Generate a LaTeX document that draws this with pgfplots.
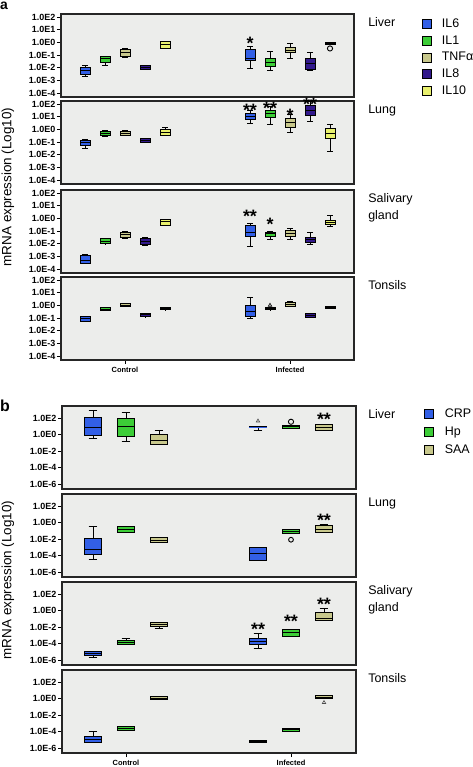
\documentclass[border=0pt]{standalone}
\usepackage{pgfplots}
\pgfplotsset{compat=1.18}
\usepackage{pgfplotstable}
\usepgfplotslibrary{statistics}
\usepackage{fontspec}
\setmainfont{Liberation Sans}

\definecolor{bgc}{RGB}{236,237,235}
\definecolor{cIL6}{RGB}{50,95,230}
\definecolor{cIL1}{RGB}{60,205,55}
\definecolor{cTNF}{RGB}{200,200,140}
\definecolor{cIL8}{RGB}{50,25,140}
\definecolor{cIL10}{RGB}{232,240,110}
\colorlet{acol0}{cIL6}\colorlet{acol1}{cIL1}\colorlet{acol2}{cTNF}\colorlet{acol3}{cIL8}\colorlet{acol4}{cIL10}
\colorlet{acol5}{cIL6}\colorlet{acol6}{cIL1}\colorlet{acol7}{cTNF}\colorlet{acol8}{cIL8}\colorlet{acol9}{cIL10}
\colorlet{bcol0}{cIL6}\colorlet{bcol1}{cIL1}\colorlet{bcol2}{cTNF}
\colorlet{bcol3}{cIL6}\colorlet{bcol4}{cIL1}\colorlet{bcol5}{cTNF}

% panel a: rows 0-4 Control (IL6 IL1 TNFa IL8 IL10), rows 5-9 Infected; values are log10
\pgfplotstableread{
lw q1 med q3 uw
-2.65 -2.50 -2.20 -1.95 -1.80
-1.84 -1.55 -1.30 -1.13 -1.10
-1.20 -1.13 -0.82 -0.55 -0.50
-2.15 -2.10 -1.95 -1.82 -1.80
-0.50 -0.47 -0.17 0.05 0.08
-2.05 -1.45 -1.26 -0.55 -0.29
-2.24 -1.87 -1.55 -1.26 -0.74
-1.26 -0.81 -0.60 -0.39 -0.08
-2.18 -2.13 -1.65 -1.26 -0.76
-0.16 -0.16 -0.10 -0.03 0.00
}\tblAL
\pgfplotstableread{
lw q1 med q3 uw
-1.50 -1.24 -1.03 -0.84 -0.75
-0.55 -0.50 -0.31 -0.13 -0.10
-0.48 -0.45 -0.29 -0.13 -0.10
-1.05 -1.02 -0.87 -0.71 -0.68
-0.50 -0.45 -0.23 0.00 0.16
0.48 0.79 1.05 1.27 1.50
0.42 0.93 1.24 1.53 1.80
-0.26 0.16 0.53 0.87 1.19
0.61 1.08 1.50 1.87 2.20
-1.71 -0.71 -0.31 0.08 0.40
}\tblAU
\pgfplotstableread{
lw q1 med q3 uw
-3.55 -3.55 -3.28 -2.94 -2.83
-2.00 -1.98 -1.79 -1.60 -1.58
-1.60 -1.52 -1.26 -1.07 -1.05
-2.10 -2.08 -1.82 -1.55 -1.52
-0.56 -0.54 -0.27 -0.08 -0.06
-2.19 -1.42 -1.07 -0.54 -0.40
-1.66 -1.42 -1.20 -1.07 -1.05
-1.68 -1.42 -1.15 -0.94 -0.75
-2.06 -1.92 -1.68 -1.47 -1.12
-0.67 -0.48 -0.30 -0.14 0.21
}\tblAS
\pgfplotstableread{
lw q1 med q3 uw
-1.28 -1.26 -1.04 -0.90 -0.88
-0.40 -0.38 -0.30 -0.18 -0.16
-0.08 -0.06 0.02 0.14 0.16
-0.90 -0.88 -0.74 -0.62 -0.60
-0.34 -0.32 -0.22 -0.14 -0.12
-1.04 -0.90 -0.50 0.02 0.66
-0.34 -0.32 -0.22 -0.14 -0.12
-0.08 -0.06 0.10 0.26 0.28
-0.96 -0.94 -0.80 -0.64 -0.62
-0.24 -0.22 -0.14 -0.06 -0.04
}\tblAT
% panel b: rows 0-2 Control (CRP Hp SAA), rows 3-5 Infected
\pgfplotstableread{
lw q1 med q3 uw
-0.51 -0.15 0.87 2.04 2.85
-0.79 -0.27 0.95 1.96 2.64
-1.19 -1.19 -0.75 0.06 0.46
0.46 0.93 0.95 0.97 0.97
0.75 0.75 0.95 1.15 1.15
0.46 0.46 0.90 1.27 1.27
}\tblBL
\pgfplotstableread{
lw q1 med q3 uw
-4.45 -3.85 -3.25 -1.86 -0.47
-1.19 -1.19 -0.83 -0.47 -0.47
-2.45 -2.45 -2.14 -1.82 -1.82
-4.57 -4.57 -3.77 -3.05 -3.05
-1.26 -1.26 -1.07 -0.87 -0.87
-1.19 -1.19 -0.78 -0.39 -0.19
}\tblBU
\pgfplotstableread{
lw q1 med q3 uw
-5.60 -5.40 -5.17 -4.93 -4.90
-4.12 -4.12 -3.85 -3.60 -3.32
-2.20 -1.93 -1.64 -1.40 -1.40
-4.60 -4.12 -3.73 -3.32 -2.72
-3.12 -3.12 -2.65 -2.32 -2.32
-1.20 -1.20 -1.00 -0.24 0.28
}\tblBS
\pgfplotstableread{
lw q1 med q3 uw
-5.27 -5.27 -4.88 -4.55 -3.92
-3.88 -3.88 -3.64 -3.40 -3.40
-0.16 -0.16 0.04 0.25 0.25
-5.28 -5.28 -5.13 -5.00 -5.00
-4.00 -4.00 -3.76 -3.60 -3.60
0.00 0.00 0.16 0.32 0.32
}\tblBT

\tikzset{
  organ/.style={anchor=north west, inner sep=0pt, font=\fontsize{12.5}{17}\selectfont, align=left},
  sig/.style={font=\bfseries\fontsize{18}{18}\selectfont, anchor=base, inner sep=0pt, yshift=-10bp},
}
\pgfplotsset{
  panel/.style={
    scale only axis, height=83bp, clip=false,
    boxplot/draw direction=y,
    axis background/.style={fill=bgc},
    axis line style={line width=1.2pt, draw=black!85},
    ytick pos=left, xtick=\empty,
    tick align=outside, major tick length=4bp,
    every tick/.style={black, line width=0.9pt},
    yticklabel style={font=\bfseries\fontsize{9}{10}\selectfont, inner sep=1.5bp},
    xticklabel style={font=\bfseries\fontsize{7.5}{8}\selectfont},
  },
  pa/.style={panel, width=293bp, xmin=-3.2, xmax=11.45, ymin=-4.3, ymax=2.25,
    ytick={-4,-3,-2,-1,0,1,2},
    yticklabels={1.0E-4,1.0E-3,1.0E-2,1.0E-1,1.0E0,1.0E1,1.0E2}},
  pb/.style={panel, width=294bp, xmin=-1.94, xmax=6.97, ymin=-6.55, ymax=3.45,
    ytick={-6,-4,-2,0,2},
    yticklabels={1.0E-6,1.0E-4,1.0E-2,1.0E0,1.0E2}},
}

% one box: #1 table, #2 row, #3 position expr, #4 fill colour, #5 box extend, #6 whisker extend
\newcommand{\onebox}[6]{%
  \pgfplotstablegetelem{#2}{lw}\of{#1}\edef\bLW{\pgfplotsretval}%
  \pgfplotstablegetelem{#2}{q1}\of{#1}\edef\bQa{\pgfplotsretval}%
  \pgfplotstablegetelem{#2}{med}\of{#1}\edef\bMD{\pgfplotsretval}%
  \pgfplotstablegetelem{#2}{q3}\of{#1}\edef\bQc{\pgfplotsretval}%
  \pgfplotstablegetelem{#2}{uw}\of{#1}\edef\bUW{\pgfplotsretval}%
  \pgfmathsetmacro\bPos{#3}%
  \edef\bCmd{\noexpand\addplot[forget plot, draw=black, line width=1pt, fill=#4,
    boxplot prepared={draw direction=y, draw position=\bPos, lower whisker=\bLW, lower quartile=\bQa,
      median=\bMD, upper quartile=\bQc, upper whisker=\bUW,
      box extend=#5, whisker extend=#6}] coordinates {};}%
  \bCmd}
\newcommand{\boxesA}[1]{%
  \pgfplotsinvokeforeach{0,...,4}{\onebox{#1}{##1}{##1-2}{acol##1}{0.5}{0.3}}%
  \pgfplotsinvokeforeach{5,...,9}{\onebox{#1}{##1}{##1+1.25}{acol##1}{0.5}{0.3}}}
\newcommand{\boxesB}[1]{%
  \pgfplotsinvokeforeach{0,...,2}{\onebox{#1}{##1}{##1-1}{bcol##1}{0.52}{0.27}}%
  \pgfplotsinvokeforeach{3,...,5}{\onebox{#1}{##1}{##1+1}{bcol##1}{0.52}{0.27}}}

\begin{document}
\begin{tikzpicture}
\useasboundingbox (0,0) rectangle (473bp,767bp);

% ---------------- panel a ----------------
\begin{axis}[pa, at={(61bp,670bp)}, anchor=south west,
  legend style={at={(1.232,0.94)}, anchor=north west, draw=none, fill=none,
    inner sep=0pt, font=\fontsize{12.5}{14}\selectfont, row sep=6.5bp,
    nodes={inner sep=0pt},
    /tikz/every odd column/.append style={column sep=10bp}},
  legend cell align=left]
\boxesA{\tblAL}
\addplot[forget plot, only marks, mark=o, mark size=2.6bp, black, line width=0.9pt] coordinates {(10.25,-0.47)};
\node[sig] at (axis cs:6.25,0.26) {*};
\node[organ] at (rel axis cs:1.048,0.96) {Liver};
\addlegendimage{legend image code/.code={\draw[fill=cIL6,draw=black,line width=0.7pt] (0bp,-4.5bp) rectangle (9bp,4.5bp);}}
\addlegendentry{IL6}
\addlegendimage{legend image code/.code={\draw[fill=cIL1,draw=black,line width=0.7pt] (0bp,-4.5bp) rectangle (9bp,4.5bp);}}
\addlegendentry{IL1}
\addlegendimage{legend image code/.code={\draw[fill=cTNF,draw=black,line width=0.7pt] (0bp,-4.5bp) rectangle (9bp,4.5bp);}}
\addlegendentry{TNFα}
\addlegendimage{legend image code/.code={\draw[fill=cIL8,draw=black,line width=0.7pt] (0bp,-4.5bp) rectangle (9bp,4.5bp);}}
\addlegendentry{IL8}
\addlegendimage{legend image code/.code={\draw[fill=cIL10,draw=black,line width=0.7pt] (0bp,-4.5bp) rectangle (9bp,4.5bp);}}
\addlegendentry{IL10}
\end{axis}

\begin{axis}[pa, at={(61bp,583bp)}, anchor=south west]
\boxesA{\tblAU}
\node[sig] at (axis cs:6.25,1.84) {**};
\node[sig] at (axis cs:7.25,1.98) {**};
\node[sig] at (axis cs:8.25,1.42) {*};
\node[sig] at (axis cs:9.25,2.32) {**};
\node[organ] at (rel axis cs:1.048,0.96) {Lung};
\end{axis}

\begin{axis}[pa, at={(61bp,494bp)}, anchor=south west]
\boxesA{\tblAS}
\node[sig] at (axis cs:6.25,0.45) {**};
\node[sig] at (axis cs:7.25,-0.14) {*};
\node[organ] at (rel axis cs:1.048,0.96) {Salivary\\gland};
\end{axis}

\begin{axis}[pa, at={(61bp,407bp)}, anchor=south west,
  xtick={0,8.25}, xticklabels={Control,Infected}, xtick pos=bottom]
\boxesA{\tblAT}
\addplot[forget plot, only marks, mark=triangle, mark size=2bp, black, line width=0.6pt] coordinates {(7.25,0.02)};
\node[organ] at (rel axis cs:1.048,0.96) {Tonsils};
\end{axis}

% ---------------- panel b ----------------
\begin{axis}[pb, at={(62bp,278bp)}, anchor=south west,
  legend style={at={(1.231,0.964)}, anchor=north west, draw=none, fill=none,
    inner sep=0pt, font=\fontsize{12.5}{14}\selectfont, row sep=7.5bp,
    nodes={inner sep=0pt},
    /tikz/every odd column/.append style={column sep=11bp}},
  legend cell align=left]
\boxesB{\tblBL}
\addplot[forget plot, only marks, mark=triangle, mark size=2bp, black!70, line width=0.6pt] coordinates {(4,1.64)};
\addplot[forget plot, only marks, mark=o, mark size=2.6bp, black, line width=0.9pt] coordinates {(5,1.55)};
\node[sig] at (axis cs:6,2.36) {**};
\node[organ] at (rel axis cs:1.041,0.96) {Liver};
\addlegendimage{legend image code/.code={\draw[fill=cIL6,draw=black,line width=0.7pt] (0bp,-4.5bp) rectangle (9bp,4.5bp);}}
\addlegendentry{CRP}
\addlegendimage{legend image code/.code={\draw[fill=cIL1,draw=black,line width=0.7pt] (0bp,-4.5bp) rectangle (9bp,4.5bp);}}
\addlegendentry{Hp}
\addlegendimage{legend image code/.code={\draw[fill=cTNF,draw=black,line width=0.7pt] (0bp,-4.5bp) rectangle (9bp,4.5bp);}}
\addlegendentry{SAA}
\end{axis}

\begin{axis}[pb, at={(62bp,190bp)}, anchor=south west]
\boxesB{\tblBU}
\addplot[forget plot, only marks, mark=o, mark size=2.4bp, black, line width=0.9pt] coordinates {(5,-2.06)};
\node[sig] at (axis cs:6,0.72) {**};
\node[organ] at (rel axis cs:1.041,0.96) {Lung};
\end{axis}

\begin{axis}[pb, at={(62bp,102bp)}, anchor=south west]
\boxesB{\tblBS}
\node[sig] at (axis cs:4,-1.84) {**};
\node[sig] at (axis cs:5,-0.84) {**};
\node[sig] at (axis cs:6,1.28) {**};
\node[organ] at (rel axis cs:1.041,0.96) {Salivary\\gland};
\end{axis}

\begin{axis}[pb, at={(62bp,14bp)}, anchor=south west,
  xtick={0,5}, xticklabels={Control,Infected}, xtick pos=bottom]
\boxesB{\tblBT}
\addplot[forget plot, only marks, mark=triangle, mark size=2bp, black!70, line width=0.6pt] coordinates {(6,-0.47)};
\node[organ] at (rel axis cs:1.041,0.96) {Tonsils};
\end{axis}

% labels
\node[rotate=90, font=\fontsize{13.5}{14}\selectfont] at (8bp,580bp) {mRNA expression (Log10)};
\node[rotate=90, font=\fontsize{13.5}{14}\selectfont] at (8bp,187bp) {mRNA expression (Log10)};
\node[font=\bfseries\fontsize{14}{14}\selectfont, inner sep=0pt] at (4bp,761bp) {a};
\node[font=\bfseries\fontsize{16}{16}\selectfont, inner sep=0pt] at (5bp,361bp) {b};
\end{tikzpicture}
\end{document}
